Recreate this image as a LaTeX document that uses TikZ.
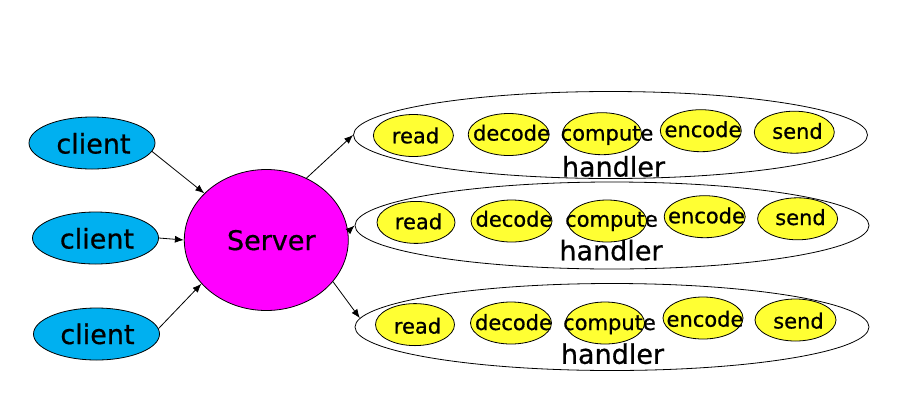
\documentclass[tikz,border=0pt]{standalone}
\usepackage{fontspec}
\setmainfont[FakeBold=0.6]{DejaVu Sans}
\usetikzlibrary{shapes.geometric,arrows.meta}
\definecolor{clientblue}{RGB}{0,176,240}
\definecolor{srvmag}{RGB}{255,0,255}
\definecolor{stepyellow}{RGB}{255,255,51}
\tikzset{
  oval/.style={ellipse, draw=black, line width=0.8pt, inner sep=0pt},
  clientnode/.style={oval, fill=clientblue, minimum width=126pt, minimum height=52pt},
  servernode/.style={oval, fill=srvmag, minimum width=164pt, minimum height=141pt},
  handlernode/.style={oval, fill=white, minimum width=514pt, minimum height=87pt},
  stepnode/.style={oval, fill=stepyellow, minimum width=80pt, minimum height=42pt},
  bigtext/.style={anchor=base, inner sep=0pt, font=\fontsize{27pt}{30pt}\selectfont},
  smalltext/.style={anchor=base, inner sep=0pt, font=\fontsize{21pt}{24pt}\selectfont},
  conn/.style={draw=black, line width=0.8pt, -{Latex[length=9pt,width=7pt]}}
}
\begin{document}
\begin{tikzpicture}[x=1pt,y=-1pt]
\useasboundingbox[fill=white] (0,0) rectangle (919,416);

% clients
\node[clientnode] (c1) at (92,143) {};
\node[clientnode] (c2) at (95.5,238) {};
\node[clientnode] (c3) at (96.5,334) {};
\node[bigtext] (c1t) at (93.5,153.5) {client};
\node[bigtext] (c2t) at (97,248.5) {client};
\node[bigtext] (c3t) at (97.5,344) {client};

% server
\node[servernode] (srv) at (266.3,240) {};
\node[bigtext] (srvt) at (271.3,250) {Server};

% handlers
\node[handlernode] (h1) at (610.5,135) {};
\node[handlernode] (h2) at (612,225.5) {};
\node[handlernode] (h3) at (612,327) {};

% row 1
\node[stepnode, minimum width=80pt] (r1) at (413.4,135.5) {};
\node[stepnode, minimum width=81pt] (d1) at (508.7,134.5) {};
\node[stepnode, minimum width=79pt] (p1) at (602,133.7) {};
\node[stepnode, minimum width=81pt] (e1) at (700.8,130.7) {};
\node[stepnode, minimum width=80pt] (s1) at (794.3,132.2) {};
\node[smalltext] (r1t) at (415.5,143.3) {read};
\node[smalltext] (d1t) at (511.5,140.6) {decode};
\node[smalltext] (p1t) at (607,140.6) {compute};
\node[smalltext] (e1t) at (703,137.1) {encode};
\node[smalltext] (s1t) at (797.5,138.8) {send};
\node[bigtext] (h1t) at (613.5,176.5) {handler};

% row 2
\node[stepnode, minimum width=78pt] (r2) at (416,222.4) {};
\node[stepnode, minimum width=81pt] (d2) at (511.5,221) {};
\node[stepnode, minimum width=79pt] (p2) at (607,221) {};
\node[stepnode, minimum width=81pt] (e2) at (704.7,216.7) {};
\node[stepnode, minimum width=80pt] (s2) at (797.6,218.8) {};
\node[smalltext] (r2t) at (418.5,229.2) {read};
\node[smalltext] (d2t) at (514,226.7) {decode};
\node[smalltext] (p2t) at (611.5,226.7) {compute};
\node[smalltext] (e2t) at (706.5,223.3) {encode};
\node[smalltext] (s2t) at (800.5,225) {send};
\node[bigtext] (h2t) at (611,260.3) {handler};

% row 3
\node[stepnode, minimum width=79pt] (r3) at (415,324.6) {};
\node[stepnode, minimum width=81pt] (d3) at (511,323) {};
\node[stepnode, minimum width=79pt] (p3) at (605,323) {};
\node[stepnode, minimum width=80pt] (e3) at (703,318) {};
\node[stepnode, minimum width=81pt] (s3) at (795.5,320) {};
\node[smalltext] (r3t) at (417.5,333.6) {read};
\node[smalltext] (d3t) at (513.5,330) {decode};
\node[smalltext] (p3t) at (609.5,330) {compute};
\node[smalltext] (e3t) at (705,326.7) {encode};
\node[smalltext] (s3t) at (798.5,328.5) {send};
\node[bigtext] (h3t) at (612.5,363.8) {handler};

% connectors
\draw[conn] (c1.-8) -- (srv.143);
\draw[conn] (c2.east) -- (srv.180);
\draw[conn] (c3.5) -- (srv.214);
\draw[conn] (srv.57) -- (h1.west);
\draw[conn] (srv.6) -- (h2.west);
\draw[conn] (srv.-32) -- (h3.178);
\end{tikzpicture}
\end{document}
